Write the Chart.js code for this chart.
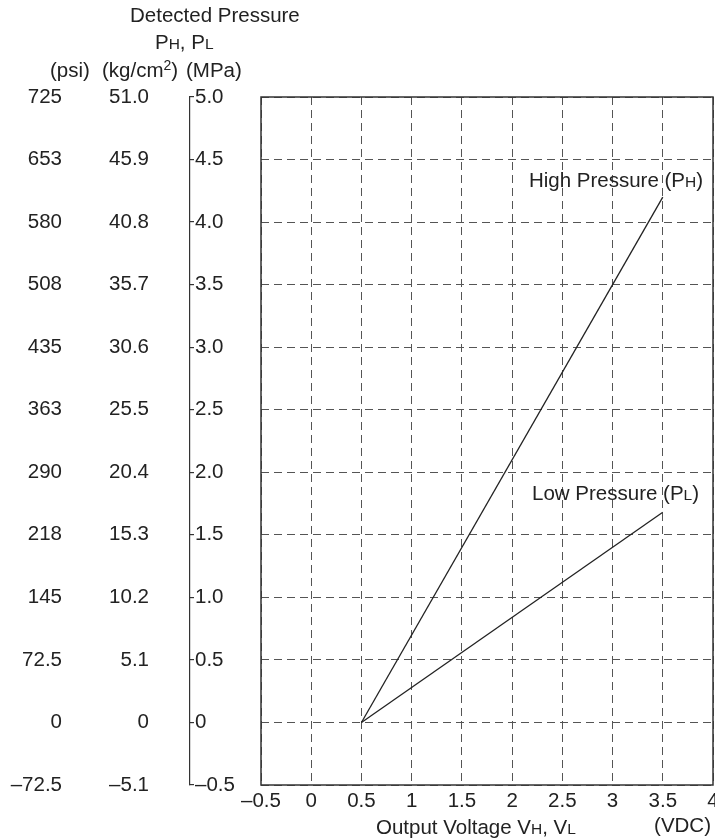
<!DOCTYPE html>
<html><head><meta charset="utf-8">
<script src="https://cdn.jsdelivr.net/npm/chart.js@4"></script>
<style>html,body{margin:0;padding:0;background:#fff;}#wrap{width:715px;height:838px;}</style>
</head><body><div id="wrap"><canvas id="c" width="715" height="838"></canvas></div>
<script>
const voltageTicks = [-0.5,0,0.5,1,1.5,2,2.5,3,3.5,4];
const voltageTickLabels = ['–0.5','0','0.5','1','1.5','2','2.5','3','3.5','4'];
const mpaTicks = [-0.5,0,0.5,1,1.5,2,2.5,3,3.5,4,4.5,5];
const mpaTickLabels = ['–0.5','0','0.5','1.0','1.5','2.0','2.5','3.0','3.5','4.0','4.5','5.0'];
const kgTickLabels = ['–5.1','0','5.1','10.2','15.3','20.4','25.5','30.6','35.7','40.8','45.9','51.0'];
const psiTickLabels = ['–72.5','0','72.5','145','218','290','363','435','508','580','653','725'];
const outputVoltage = [0.5, 3.5];
const highPressure = [0, 4.2];
const lowPressure = [0, 1.68];

const FAM = '"Liberation Sans", Arial, Helvetica, sans-serif';
const FS = 20.5, SUB = 15.5;
const TXT = '#222';
const font = {family: FAM, size: FS};
const setY = s => { s.ticks = mpaTicks.map(v => ({value: v})); };

function drawParts(ctx, parts, x, y, align) {
  let total = 0;
  parts.forEach(p => { ctx.font = (p.s || FS) + 'px ' + FAM; p.w = ctx.measureText(p.t).width; total += p.w; });
  let cx = align === 'right' ? x - total : align === 'center' ? x - total / 2 : x;
  ctx.textAlign = 'left'; ctx.textBaseline = 'alphabetic'; ctx.fillStyle = TXT;
  parts.forEach(p => { ctx.font = (p.s || FS) + 'px ' + FAM; ctx.fillText(p.t, cx, y + (p.dy || 0)); cx += p.w; });
}

const textPlugin = {
  id: 'texts',
  afterDraw(chart) {
    const ctx = chart.ctx, a = chart.chartArea;
    ctx.save();
    ctx.strokeStyle = '#333'; ctx.lineWidth = 1.5; ctx.setLineDash([]);
    ctx.strokeRect(a.left, a.top, a.right - a.left, a.bottom - a.top);
    drawParts(ctx, [{t: 'Detected Pressure'}], 130, 22, 'left');
    drawParts(ctx, [{t: 'P'}, {t: 'H', s: SUB}, {t: ', P'}, {t: 'L', s: SUB}], 155, 49, 'left');
    drawParts(ctx, [{t: '(psi)'}], 50, 77, 'left');
    drawParts(ctx, [{t: '(kg/cm'}, {t: '2', s: 14, dy: -7}, {t: ')'}], 102, 77, 'left');
    drawParts(ctx, [{t: '(MPa)'}], 186, 77, 'left');
    drawParts(ctx, [{t: 'High Pressure (P'}, {t: 'H', s: SUB}, {t: ')'}], 703, 187, 'right');
    drawParts(ctx, [{t: 'Low Pressure (P'}, {t: 'L', s: SUB}, {t: ')'}], 699, 500, 'right');
    drawParts(ctx, [{t: 'Output Voltage V'}, {t: 'H', s: SUB}, {t: ', V'}, {t: 'L', s: SUB}], 376, 834, 'left');
    drawParts(ctx, [{t: '(VDC)'}], 711, 832, 'right');
    ctx.restore();
  }
};

const lineStyle = {showLine: true, pointRadius: 0, borderColor: '#222', borderWidth: 1.3, fill: false, xAxisID: 'x', yAxisID: 'y'};

new Chart(document.getElementById('c'), {
  type: 'scatter',
  data: {
    datasets: [
      Object.assign({label: 'High Pressure', data: outputVoltage.map((x, i) => ({x, y: highPressure[i]}))}, lineStyle),
      Object.assign({label: 'Low Pressure', data: outputVoltage.map((x, i) => ({x, y: lowPressure[i]}))}, lineStyle)
    ]
  },
  options: {
    responsive: false, animation: false, devicePixelRatio: 1,
    layout: {padding: {top: 97, right: 2, left: 0, bottom: 0}},
    plugins: {legend: {display: false}, tooltip: {enabled: false}},
    scales: {
      x: {
        type: 'linear', min: -0.5, max: 4,
        afterBuildTicks: s => { s.ticks = voltageTicks.map(v => ({value: v})); },
        ticks: {callback: (v, i) => voltageTickLabels[i], font, color: TXT, padding: 4, maxRotation: 0, autoSkip: false},
        grid: {color: '#555', lineWidth: 1, drawTicks: false},
        border: {display: false, dash: [8, 5]},
        afterFit: s => { s.height = 53; s.paddingLeft = 0; s.paddingRight = 0; }
      },
      y: {
        type: 'linear', position: 'left', weight: 1, min: -0.5, max: 5,
        afterBuildTicks: setY,
        ticks: {display: false},
        grid: {color: '#555', lineWidth: 1, drawTicks: false},
        border: {display: false, dash: [8, 5]},
        afterFit: s => { s.width = 71; s.paddingTop = 0; s.paddingBottom = 0; }
      },
      mpa: {
        type: 'linear', position: 'left', weight: 2, min: -0.5, max: 5,
        afterBuildTicks: setY,
        ticks: {mirror: true, padding: 5, callback: (v, i) => mpaTickLabels[i], font, color: TXT},
        grid: {drawOnChartArea: false, drawTicks: true, tickLength: -4, color: '#333', lineWidth: 1.2},
        border: {display: true, color: '#333', width: 1.2},
        afterFit: s => { s.width = 39; s.paddingTop = 0; s.paddingBottom = 0; }
      },
      kg: {
        type: 'linear', position: 'left', weight: 3, min: -0.5, max: 5,
        afterBuildTicks: setY,
        ticks: {padding: 2, callback: (v, i) => kgTickLabels[i], font, color: TXT},
        grid: {display: false, drawTicks: false},
        border: {display: false},
        afterFit: s => { s.width = 87; s.paddingTop = 0; s.paddingBottom = 0; }
      },
      psi: {
        type: 'linear', position: 'left', weight: 4, min: -0.5, max: 5,
        afterBuildTicks: setY,
        ticks: {padding: 2, callback: (v, i) => psiTickLabels[i], font, color: TXT},
        grid: {display: false, drawTicks: false},
        border: {display: false},
        afterFit: s => { s.width = 64; s.paddingTop = 0; s.paddingBottom = 0; }
      }
    }
  },
  plugins: [textPlugin]
});
</script></body></html>
